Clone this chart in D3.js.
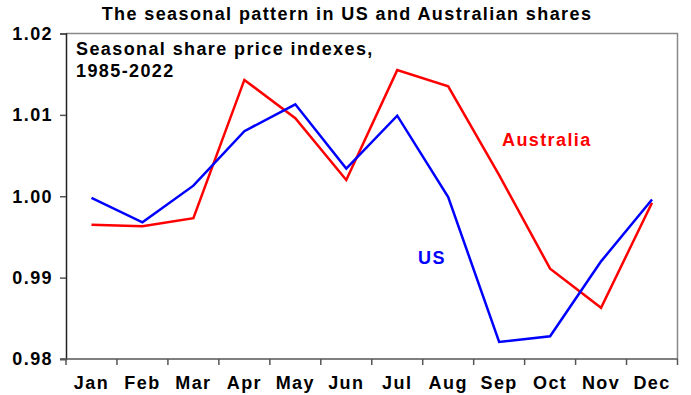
<!DOCTYPE html>
<html>
<head>
<meta charset="utf-8">
<script src="https://cdn.jsdelivr.net/npm/d3@7"></script>
<style>
  body { margin: 0; background: #fff; }
  text { font-family: "Liberation Sans", Arial, sans-serif; font-weight: bold; letter-spacing: 1.4px; }
</style>
</head>
<body>
<script>
// data
const months = ["Jan", "Feb", "Mar", "Apr", "May", "Jun", "Jul", "Aug", "Sep", "Oct", "Nov", "Dec"];
const usValues = [0.9998, 0.9968, 1.0013, 1.0080, 1.0113, 1.0034, 1.0099, 0.9999, 0.9821, 0.9828, 0.9920, 0.9996];
const ausValues = [0.9965, 0.9963, 0.9973, 1.0143, 1.0096, 1.0020, 1.0155, 1.0135, 1.0026, 0.9911, 0.9863, 0.9992];
const yTicks = [0.98, 0.99, 1.00, 1.01, 1.02];

const width = 691, height = 395;
const margin = { top: 33.5, right: 13.5, bottom: 36, left: 66 };

const svg = d3.select("body").append("svg")
  .attr("width", width)
  .attr("height", height);

const x = d3.scaleBand()
  .domain(months)
  .range([margin.left, width - margin.right]);

const y = d3.scaleLinear()
  .domain([0.98, 1.02])
  .range([height - margin.bottom, margin.top]);

// frame: top and right in grey
svg.append("path")
  .attr("d", `M${margin.left},${margin.top}H${width - margin.right}V${height - margin.bottom}`)
  .attr("fill", "none")
  .attr("stroke", "#888")
  .attr("stroke-width", 1.5);

// y axis
const yAxis = svg.append("g")
  .attr("transform", `translate(${margin.left},0)`)
  .call(d3.axisLeft(y).tickValues(yTicks).tickFormat(d3.format(".2f")).tickSize(6).tickPadding(7));
yAxis.select(".domain").attr("stroke", "#222").attr("stroke-width", 1.5);
yAxis.selectAll(".tick line").attr("stroke", "#555").attr("stroke-width", 1.5);
yAxis.selectAll("text").attr("font-size", 18).attr("fill", "#000")
  .attr("font-family", "Liberation Sans, Arial, sans-serif").attr("font-weight", "bold");

// x axis, ticks between categories
const xAxis = svg.append("g")
  .attr("transform", `translate(0,${height - margin.bottom})`)
  .call(d3.axisBottom(x).tickSize(0).tickPadding(17));
xAxis.select(".domain").remove();
xAxis.selectAll("text").attr("font-size", 18).attr("fill", "#000")
  .attr("font-family", "Liberation Sans, Arial, sans-serif").attr("font-weight", "bold");
svg.append("line")
  .attr("x1", margin.left - 6).attr("x2", width - margin.right)
  .attr("y1", height - margin.bottom).attr("y2", height - margin.bottom)
  .attr("stroke", "#555").attr("stroke-width", 1.5);
svg.append("g").selectAll("line")
  .data(months.concat(["end"]))
  .join("line")
  .attr("x1", (d, i) => margin.left + i * x.step())
  .attr("x2", (d, i) => margin.left + i * x.step())
  .attr("y1", height - margin.bottom)
  .attr("y2", height - margin.bottom + 6)
  .attr("stroke", "#555")
  .attr("stroke-width", 1.5);

const line = d3.line()
  .x((d, i) => x(months[i]) + x.bandwidth() / 2)
  .y(d => y(d));

svg.append("path")
  .datum(ausValues)
  .attr("d", line)
  .attr("fill", "none")
  .attr("stroke", "#ff0000")
  .attr("stroke-width", 2.5);

svg.append("path")
  .datum(usValues)
  .attr("d", line)
  .attr("fill", "none")
  .attr("stroke", "#0000ff")
  .attr("stroke-width", 2.5);

// title and labels
svg.append("text")
  .attr("x", 347).attr("y", 20)
  .attr("text-anchor", "middle")
  .attr("font-size", 18)
  .text("The seasonal pattern in US and Australian shares");

svg.append("text")
  .attr("x", 76).attr("y", 55)
  .attr("font-size", 18)
  .text("Seasonal share price indexes,");
svg.append("text")
  .attr("x", 76).attr("y", 77)
  .attr("font-size", 18)
  .text("1985-2022");

svg.append("text")
  .attr("x", 502).attr("y", 146)
  .attr("font-size", 18)
  .attr("fill", "#ff0000")
  .text("Australia");

svg.append("text")
  .attr("x", 418).attr("y", 264)
  .attr("font-size", 18)
  .attr("fill", "#0000ff")
  .text("US");
</script>
</body>
</html>
